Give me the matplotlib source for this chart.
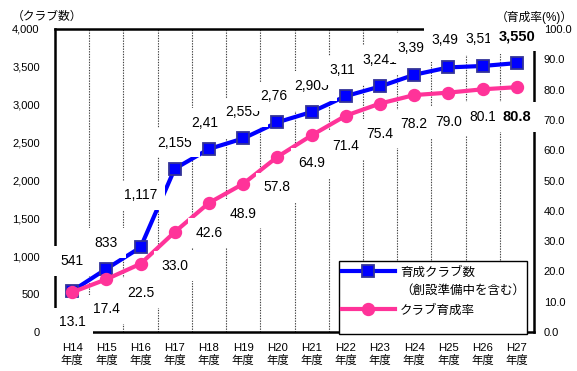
import numpy as np
import matplotlib
matplotlib.use('Agg')
import matplotlib.pyplot as plt
from matplotlib.lines import Line2D
from matplotlib.patches import Rectangle
from matplotlib.ticker import MultipleLocator, FuncFormatter

# ---- data ----
years = ['H14', 'H15', 'H16', 'H17', 'H18', 'H19', 'H20',
         'H21', 'H22', 'H23', 'H24', 'H25', 'H26', 'H27']
clubs = [541, 833, 1117, 2155, 2416, 2555, 2768, 2905, 3114, 3241, 3396, 3493, 3512, 3550]
rates = [13.1, 17.4, 22.5, 33.0, 42.6, 48.9, 57.8, 64.9, 71.4, 75.4, 78.2, 79.0, 80.1, 80.8]
xlabels = [f'{y}\n年度' for y in years]

# label offsets (points)
club_off = [21.6, 18.7, 37.4, 18.7, 18.7, 18.7, 18.7, 18.7, 18.7, 19.4, 19.4, 19.4, 19.4, 19.4]
rate_off = [-21.6, -21.6, -21.0, -24.5, -21.6, -21.6, -22.0, -20.0, -21.6, -21.6, -21.0, -21.0, -20.0, -21.6]

plt.rcParams['font.family'] = ['Liberation Sans', 'Noto Sans CJK JP']

W, H = 577, 371
fig = plt.figure(figsize=(W / 100, H / 100), dpi=100)
ax = fig.add_axes([55 / W, 1 - 332 / H, 479 / W, 303 / H])
x = np.arange(len(years))
ax.set_xlim(-0.5, len(years) - 0.5)
ax.set_ylim(0, 4000)
for b in np.arange(0.5, len(years) - 0.5, 1):
    ax.axvline(b, color='#404040', lw=0.8, ls=(0, (1.2, 1.2)), zorder=1)

ax.plot(x, clubs, color='#0000FF', lw=3, marker='s', ms=8.4,
        mfc='#0000FF', mec='#333399', mew=1.3, zorder=3)

for s in ax.spines.values():
    s.set_linewidth(1.8)
    s.set_color('black')

ax.yaxis.set_major_locator(MultipleLocator(500))
ax.yaxis.set_major_formatter(FuncFormatter(lambda v, p: f'{int(v):,}'))
ax.tick_params(axis='y', length=0, pad=11, labelsize=8)
ax.set_xticks(x)
ax.set_xticklabels(xlabels, linespacing=1.2)
ax.tick_params(axis='x', length=0, pad=8, labelsize=8.2)

ax2 = ax.twinx()
ax2.set_ylim(0, 100)
ax2.plot(x, rates, color='#FF3399', lw=3, marker='o', ms=8.6,
         mfc='#FF3399', mec='#FF3399', zorder=2)
for s in ax2.spines.values():
    s.set_visible(False)
ax2.yaxis.set_major_locator(MultipleLocator(10))
ax2.yaxis.set_major_formatter(FuncFormatter(lambda v, p: f'{v:.1f}'))
ax2.tick_params(axis='y', length=0, pad=7, labelsize=8)

n = len(years)
for i in range(n):
    last = (i == n - 1)
    ax2.annotate(f'{clubs[i]:,}', xy=(x[i], clubs[i]), xycoords=ax.transData,
                 xytext=(0, club_off[i]), textcoords='offset points',
                 ha='center', va='center', fontsize=10.5 if last else 10,
                 fontweight='bold' if last else 'normal',
                 bbox=dict(boxstyle='square,pad=0.55', fc='white', ec='none'),
                 zorder=4 + i * 0.01)
    ax2.annotate(f'{rates[i]:.1f}', xy=(x[i], rates[i]),
                 xytext=(0, rate_off[i]), textcoords='offset points',
                 ha='center', va='center', fontsize=10.5 if last else 10,
                 fontweight='bold' if last else 'normal',
                 bbox=dict(boxstyle='square,pad=0.55', fc='white', ec='none'),
                 zorder=4 + i * 0.01)

fig.text(12 / W, 1 - 17 / H, '（クラブ数）', fontsize=8.5, ha='left', va='center')
fig.text(573 / W, 1 - 17 / H, '（育成率(%)）', fontsize=8.5, ha='right', va='center')

# legend frame drawn as a rectangle
frame = Rectangle((339 / W, 1 - 334 / H), 188 / W, 73 / H, transform=fig.transFigure,
                  fc='white', ec='black', lw=1.0, zorder=9)
ax2.add_artist(frame)
frame.set_clip_on(False)

h1 = Line2D([], [], color='#0000FF', lw=3, marker='s', ms=8.4, mfc='#0000FF', mec='#333399', mew=1.3)
h0 = Line2D([], [], color='none')
h2 = Line2D([], [], color='#FF3399', lw=3, marker='o', ms=8.6, mfc='#FF3399', mec='#FF3399')
leg = ax2.legend([h1, h0, h2], ['育成クラブ数', '（創設準備中を含む）', 'クラブ育成率'],
                 loc='upper left', bbox_to_anchor=(342 / W, 1 - 266 / H),
                 bbox_transform=fig.transFigure, frameon=False, fontsize=9, handlelength=4.2,
                 handletextpad=0.45, labelspacing=0.55, borderpad=0.0, borderaxespad=0)
leg.set_zorder(10)

fig.savefig('out.png', dpi=100)
